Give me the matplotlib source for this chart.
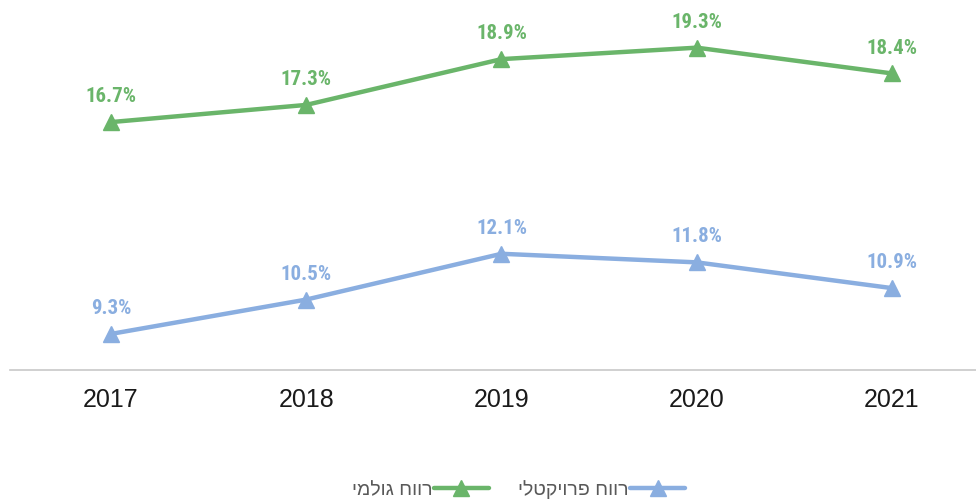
import matplotlib
matplotlib.use("Agg")
import matplotlib.pyplot as plt
from matplotlib import font_manager

years = ["2017", "2018", "2019", "2020", "2021"]
gross = [16.7, 17.3, 18.9, 19.3, 18.4]
project = [9.3, 10.5, 12.1, 11.8, 10.9]
gross_label = "רווח גולמי"
project_label = "רווח פרויקטלי"

GREEN = "#6ab56a"
BLUE = "#8aaee0"


def visual(s):
    # matplotlib has no bidi support: put Hebrew in visual order
    return s[::-1]


# condensed face for the value labels if one is installed
names = {f.name for f in font_manager.fontManager.ttflist}
narrow = next((n for n in ["Liberation Sans Narrow", "DejaVu Sans Condensed", "Roboto Condensed"]
               if n in names), None)
label_font = narrow or "Liberation Sans"
label_size = 15 if narrow else 12.5

fig = plt.figure(figsize=(9.76, 5.02), dpi=100)
ax = fig.add_axes([10 / 976, 1 - 371 / 502, 966 / 976, 371 / 502])

x = list(range(len(years)))
for vals, col, lab in [(gross, GREEN, gross_label), (project, BLUE, project_label)]:
    ax.plot(x, vals, color=col, linewidth=3.2, marker="^", markersize=11,
            label=visual(lab), solid_capstyle="round")
    for xi, v in zip(x, vals):
        ax.annotate(f"{v:.1f}%", (xi, v), xytext=(0, 19), textcoords="offset points",
                    ha="center", va="center", color=col, fontsize=label_size,
                    fontweight="bold", family=label_font)

ax.set_xlim(-0.517, 4.43)
ax.set_ylim(8.04, 21.0)
ax.set_yticks([])
ax.set_xticks(x)
ax.set_xticklabels(years, fontsize=18, family="Liberation Sans", color="#1a1a1a")
ax.tick_params(axis="x", length=0, pad=12)
for side in ["top", "left", "right"]:
    ax.spines[side].set_visible(False)
ax.spines["bottom"].set_color("#c8c8c8")
ax.spines["bottom"].set_linewidth(1.2)

fig.legend(loc="center", bbox_to_anchor=(0.531, 0.024), ncol=2, frameon=False,
           markerfirst=False, handlelength=2.8, columnspacing=1.5, handletextpad=0.1,
           prop={"family": "Liberation Sans", "size": 14}, labelcolor="#595959")

fig.savefig("out.png", dpi=100)
